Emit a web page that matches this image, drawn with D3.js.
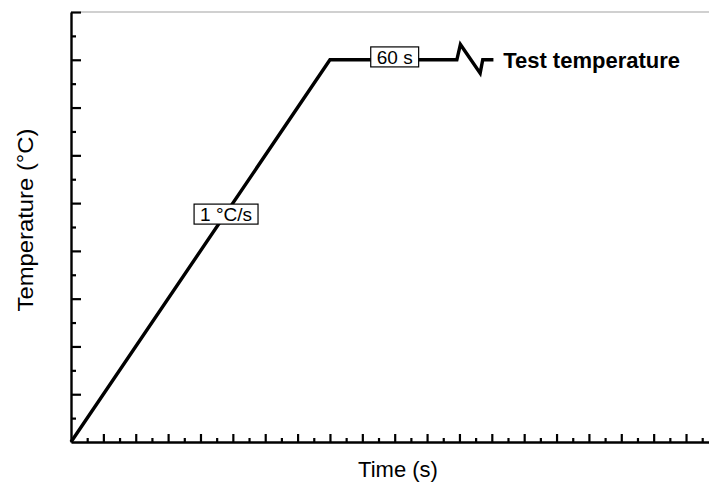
<!DOCTYPE html>
<html>
<head>
<meta charset="utf-8">
<script src="https://cdn.jsdelivr.net/npm/d3@7"></script>
<style>
  body { margin: 0; background: #fff; }
  text { font-family: "Liberation Sans", Arial, sans-serif; fill: #000; }
</style>
</head>
<body>
<div id="chart"></div>
<script>
// ----------------------------------------------------------------
// Data
// ----------------------------------------------------------------

// temperature programme: ramp, hold, axis break
const timeValues = [0, 8, 11.92, 12.03, 12.64, 12.72, 13.05];
const tempValues = [0, 8, 8, 8.32, 7.72, 8, 8];

const majorTicksX = d3.range(1, 21);
const minorTicksX = d3.range(0.5, 20, 1);
const majorTicksY = d3.range(1, 10);
const minorTicksY = d3.range(0.5, 9, 1);

const boxTexts = ["1 °C/s", "60 s"];
const boxTimes = [4.79, 10.0];
const boxTemps = [4.77, 8.06];

const endLabel = "Test temperature";
const endTime = 13.35;
const endTemp = 8;

const xTitle = "Time (s)";
const yTitle = "Temperature (°C)";

// ----------------------------------------------------------------
// Setup
// ----------------------------------------------------------------

const width = 709;
const height = 482;
const margin = { left: 71, top: 12, bottom: 40 };

const svg = d3.select("#chart").append("svg")
  .attr("width", width)
  .attr("height", height);

const x = d3.scaleLinear().domain([0, 20]).range([margin.left, margin.left + 20 * 32.37]);
const y = d3.scaleLinear().domain([0, 9]).range([height - margin.bottom, margin.top]);

// ----------------------------------------------------------------
// Axes
// ----------------------------------------------------------------

// gray frame line on top
svg.append("line")
  .attr("x1", x(0) + 10).attr("x2", width)
  .attr("y1", y(9)).attr("y2", y(9))
  .attr("stroke", "#c0c0c0")
  .attr("stroke-width", 1.5);

function drawAxis (axis, transform, minor) {
  const g = svg.append("g")
    .attr("transform", transform)
    .call(axis);
  g.selectAll(".tick line").attr("stroke", "#000").attr("stroke-width", 2.2);
  g.select(".domain").attr("stroke", minor ? "none" : "#000").attr("stroke-width", 2.4);
  return g;
}

drawAxis(d3.axisBottom(x).tickValues(minorTicksX).tickSize(-4).tickSizeOuter(0).tickFormat(""),
  `translate(0,${y(0)})`, true);
drawAxis(d3.axisBottom(x).tickValues(majorTicksX).tickSize(-8).tickSizeOuter(0).tickFormat(""),
  `translate(0,${y(0)})`, false);
drawAxis(d3.axisLeft(y).tickValues(minorTicksY).tickSize(-5).tickSizeOuter(0).tickFormat(""),
  `translate(${x(0)},0)`, true);
drawAxis(d3.axisLeft(y).tickValues(majorTicksY).tickSize(-10).tickSizeOuter(0).tickFormat(""),
  `translate(${x(0)},0)`, false);

// titles
svg.append("text")
  .attr("x", (x(0) + width) / 2 + 8)
  .attr("y", 477)
  .attr("text-anchor", "middle")
  .style("font-size", "22px")
  .text(xTitle);

svg.append("text")
  .attr("transform", `translate(33,${(y(0) + y(9)) / 2 - 7}) rotate(-90)`)
  .attr("text-anchor", "middle")
  .attr("textLength", 183)
  .attr("lengthAdjust", "spacingAndGlyphs")
  .style("font-size", "22px")
  .text(yTitle);

// ----------------------------------------------------------------
// Line
// ----------------------------------------------------------------

const line = d3.line()
  .x(function (d, i) { return x(timeValues[i]); })
  .y(function (d, i) { return y(tempValues[i]); });

svg.append("path")
  .datum(timeValues)
  .attr("d", line)
  .attr("fill", "none")
  .attr("stroke", "#000")
  .attr("stroke-width", 3.4)
  .attr("stroke-linejoin", "miter");

// ----------------------------------------------------------------
// Labels
// ----------------------------------------------------------------

boxTexts.forEach(function (label, i) {
  const g = svg.append("g")
    .attr("transform", `translate(${x(boxTimes[i])},${y(boxTemps[i])})`);
  const rect = g.append("rect");
  const t = g.append("text")
    .attr("text-anchor", "middle")
    .attr("dy", "0.36em")
    .style("font-size", "19px")
    .text(label);
  const bb = t.node().getBBox();
  rect.attr("x", bb.x - 6)
    .attr("y", -10)
    .attr("width", bb.width + 12)
    .attr("height", 20)
    .attr("fill", "#fff")
    .attr("stroke", "#000")
    .attr("stroke-width", 1.2);
});

svg.append("text")
  .attr("x", x(endTime))
  .attr("y", y(endTemp))
  .attr("dy", "0.36em")
  .style("font-size", "22px")
  .style("font-weight", "bold")
  .text(endLabel);
</script>
</body>
</html>
